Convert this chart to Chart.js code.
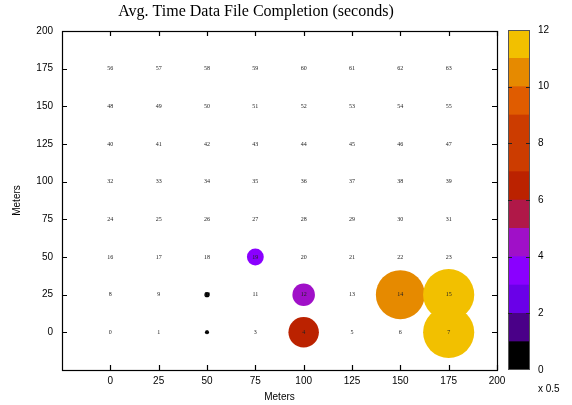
<!DOCTYPE html>
<html>
<head>
<meta charset="utf-8">
<script src="https://cdn.jsdelivr.net/npm/chart.js@4.4.1/dist/chart.umd.min.js"></script>
<style>
  html, body { margin: 0; padding: 0; background: #fff; }
  #wrap { position: relative; width: 572px; height: 405px; overflow: hidden; }
  #main { position: absolute; left: 0; top: 0; }
  #cbar { position: absolute; left: 507px; top: 0; }
</style>
</head>
<body>
<div id="wrap">
  <canvas id="main" width="572" height="405"></canvas>
  <canvas id="cbar" width="65" height="405"></canvas>
</div>
<script>
// grid of measuring spots (meters), labelled row * 8 + col
const gridX = [0, 25, 50, 75, 100, 125, 150, 175];
const gridY = [0, 25, 50, 75, 100, 125, 150, 175];

// spots that completed a data file
const spotIds = [2, 10, 19, 12, 4, 14, 15, 7];
const spotX = [50, 50, 75, 100, 100, 150, 175, 175];
const spotY = [0, 25, 50, 25, 0, 25, 25, 0];
const spotTime = [0.7, 0.95, 3.6, 4.9, 6.7, 10.9, 11.4, 11.4];

// colour bands 0..12 (one per unit)
const palette = [
    '#000000', '#4a0088', '#6a00e8', '#8a00ff', '#a010c8', '#b01848',
    '#bb2200', '#cc3c00', '#cc3c00', '#e05c00', '#e68a00', '#f2c000'
];

const titleText = 'Avg. Time Data File Completion (seconds)';
const sansFont = '"Liberation Sans", Arial, sans-serif';
const serifFont = '"Liberation Serif", "Times New Roman", serif';

function bandColor(v) {
    return palette[Math.min(palette.length - 1, Math.floor(v))];
}

const framePlugin = {
    id: 'gnuplotFrame',
    afterDatasetsDraw(chart) {
        const { ctx, chartArea: a, scales: { x, y } } = chart;
        ctx.save();

        // spot numbers on top of the bubbles
        ctx.font = '6px ' + serifFont;
        ctx.fillStyle = '#222';
        ctx.textAlign = 'center';
        ctx.textBaseline = 'middle';
        gridY.forEach((gy, row) => {
            gridX.forEach((gx, col) => {
                ctx.fillText(String(row * gridX.length + col),
                    x.getPixelForValue(gx), y.getPixelForValue(gy));
            });
        });

        // border box
        ctx.strokeStyle = '#000';
        ctx.lineWidth = 1.2;
        ctx.strokeRect(Math.round(a.left) + 0.5, Math.round(a.top) + 0.5,
            Math.round(a.right - a.left), Math.round(a.bottom - a.top));

        // inward ticks on all four sides
        ctx.beginPath();
        x.ticks.forEach(t => {
            const px = Math.round(x.getPixelForValue(t.value)) + 0.5;
            ctx.moveTo(px, a.bottom); ctx.lineTo(px, a.bottom - 5);
            ctx.moveTo(px, a.top); ctx.lineTo(px, a.top + 5);
        });
        y.ticks.forEach(t => {
            const py = Math.round(y.getPixelForValue(t.value)) + 0.5;
            ctx.moveTo(a.left, py); ctx.lineTo(a.left + 5, py);
            ctx.moveTo(a.right, py); ctx.lineTo(a.right - 5, py);
        });
        ctx.stroke();

        // title
        ctx.font = '16px ' + serifFont;
        ctx.fillStyle = '#000';
        ctx.textBaseline = 'middle';
        ctx.fillText(titleText, 256, 12);
        ctx.restore();
    }
};

const dropNegative = scale => {
    scale.ticks = scale.ticks.filter(t => t.value >= 0);
};

new Chart(document.getElementById('main'), {
    type: 'bubble',
    data: {
        datasets: [{
            data: spotIds.map((id, i) => ({
                x: spotX[i],
                y: spotY[i],
                r: 2.2 * spotTime[i] + 0.5
            })),
            backgroundColor: spotTime.map(bandColor),
            borderWidth: 0,
            hoverBorderWidth: 0
        }]
    },
    options: {
        responsive: false,
        animation: false,
        events: [],
        layout: { padding: { top: 31, left: 0, right: 75, bottom: 0 } },
        plugins: {
            legend: { display: false },
            tooltip: { enabled: false }
        },
        scales: {
            x: {
                type: 'linear',
                min: -25,
                max: 200,
                afterBuildTicks: dropNegative,
                afterFit: s => { s.height = 35; },
                ticks: { stepSize: 25, padding: 5, color: '#000', font: { family: sansFont, size: 10 } },
                grid: { display: false, drawTicks: false },
                border: { display: false },
                title: {
                    display: true, text: 'Meters', color: '#000',
                    font: { family: sansFont, size: 10 },
                    padding: { top: 0, bottom: 2 }
                }
            },
            y: {
                type: 'linear',
                min: -25,
                max: 200,
                afterBuildTicks: dropNegative,
                afterFit: s => { s.width = 62; },
                ticks: { stepSize: 25, padding: 9, color: '#000', font: { family: sansFont, size: 10 } },
                grid: { display: false, drawTicks: false },
                border: { display: false },
                title: {
                    display: true, text: 'Meters', color: '#000',
                    font: { family: sansFont, size: 10 },
                    padding: { top: 11, bottom: 0 }
                }
            }
        }
    },
    plugins: [framePlugin]
});

// colour box
const cbarPlugin = {
    id: 'cbarFrame',
    afterDatasetsDraw(chart) {
        const { ctx, chartArea: a, scales: { y } } = chart;
        ctx.save();
        ctx.strokeStyle = '#555';
        ctx.lineWidth = 1;
        ctx.strokeRect(Math.round(a.left) + 0.5, Math.round(a.top) + 0.5,
            Math.round(a.right - a.left) - 1, Math.round(a.bottom - a.top) - 1);
        ctx.strokeStyle = '#222';
        ctx.beginPath();
        y.ticks.forEach(t => {
            if (t.value <= 0 || t.value >= 12) return;
            const py = Math.round(y.getPixelForValue(t.value)) + 0.5;
            ctx.moveTo(a.left, py); ctx.lineTo(a.left + 4, py);
            ctx.moveTo(a.right, py); ctx.lineTo(a.right - 4, py);
        });
        ctx.stroke();
        ctx.font = '10px ' + sansFont;
        ctx.fillStyle = '#000';
        ctx.textBaseline = 'middle';
        ctx.fillText('x 0.5', 31, 389);
        ctx.restore();
    }
};

new Chart(document.getElementById('cbar'), {
    type: 'bar',
    data: {
        labels: [''],
        datasets: palette.map(c => ({
            data: [1],
            backgroundColor: c,
            borderWidth: 0,
            barPercentage: 1,
            categoryPercentage: 1
        }))
    },
    options: {
        responsive: false,
        animation: false,
        events: [],
        layout: { padding: { top: 30, left: 1, right: 0, bottom: 35 } },
        plugins: {
            legend: { display: false },
            tooltip: { enabled: false }
        },
        scales: {
            x: { stacked: true, display: false },
            y: {
                stacked: true,
                position: 'right',
                min: 0,
                max: 12,
                afterFit: s => { s.width = 42; },
                ticks: { stepSize: 2, padding: 8, color: '#000', font: { family: sansFont, size: 10 } },
                grid: { display: false, drawTicks: false },
                border: { display: false }
            }
        }
    },
    plugins: [cbarPlugin]
});
</script>
</body>
</html>
